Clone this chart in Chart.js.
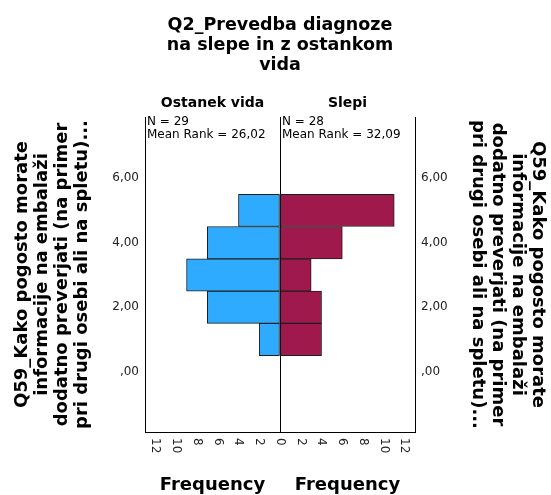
<!DOCTYPE html>
<html>
<head>
<meta charset="utf-8">
<script src="https://cdn.jsdelivr.net/npm/chart.js@4"></script>
<style>
  html, body { margin: 0; padding: 0; background: #fff; }
  #wrap { width: 551px; height: 495px; }
</style>
</head>
<body>
<div id="wrap"><canvas id="chart"></canvas></div>
<script>
// values
const groups = ['Ostanek vida', 'Slepi'];
const categories = [1, 2, 3, 4, 5];
const ostanekVida = [2, 7, 9, 7, 4];
const slepi = [4, 4, 3, 6, 11];
const groupN = [29, 28];
const meanRank = ['26,02', '32,09'];

const yTicks = [0, 2, 4, 6];
const yTickLabels = [',00', '2,00', '4,00', '6,00'];
const freqTicks = [0, 2, 4, 6, 8, 10, 12];

const titleLines = ['Q2_Prevedba diagnoze', 'na slepe in z ostankom', 'vida'];
const axisTitle = ['Q59_Kako pogosto morate', 'informacije na embalaži', 'dodatno preverjati (na primer', 'pri drugi osebi ali na spletu)...'];

const FONT = 'DejaVu Sans';
Chart.defaults.font.family = FONT;
Chart.defaults.color = '#000';

// mirrored frequency ticks: left half negative
const xTickValues = freqTicks.slice(1).reverse().map(v => -v).concat(freqTicks);

// draws headers, N / mean rank, rotated frequency ticks and axis labels
const extraText = {
  id: 'extraText',
  afterDraw(chart) {
    const {ctx, chartArea, scales: {x}} = chart;
    const zero = x.getPixelForValue(0);
    const centers = [(chartArea.left + zero) / 2, (zero + chartArea.right) / 2];
    ctx.save();
    ctx.fillStyle = '#000';
    ctx.textBaseline = 'middle';

    ctx.font = 'bold 14px "' + FONT + '"';
    ctx.textAlign = 'center';
    groups.forEach((g, i) => ctx.fillText(g, centers[i], chartArea.top - 14));

    ctx.font = 'bold 18px "' + FONT + '"';
    centers.forEach(c => ctx.fillText('Frequency', c, chartArea.bottom + 53));

    ctx.font = '12px "' + FONT + '"';
    ctx.textAlign = 'left';
    const starts = [chartArea.left + 2, zero + 2];
    starts.forEach((sx, i) => {
      ctx.fillText('N = ' + groupN[i], sx, chartArea.top + 5);
      ctx.fillText('Mean Rank = ' + meanRank[i], sx, chartArea.top + 17.5);
    });

    // tick labels read top to bottom
    ctx.fillStyle = '#222';
    xTickValues.forEach(v => {
      ctx.save();
      ctx.translate(x.getPixelForValue(v), chartArea.bottom + 6);
      ctx.rotate(Math.PI / 2);
      ctx.fillText(String(Math.abs(v)), 0, 0);
      ctx.restore();
    });
    ctx.restore();
  }
};

const yScale = (pos, width, pad) => ({
  type: 'linear',
  position: pos,
  min: -1.86,
  max: 7.89,
  offset: false,
  afterBuildTicks: s => { s.ticks = yTicks.map(v => ({value: v})); },
  afterFit: s => { s.width = width; },
  grid: {display: false, drawTicks: false},
  border: {display: true, color: '#000', width: 1},
  ticks: {
    padding: 6,
    color: '#222',
    font: {size: 12},
    callback: (v, i) => yTickLabels[i]
  },
  title: {
    display: true,
    text: axisTitle,
    font: {size: 18, weight: 'bold', lineHeight: '20px'},
    padding: {top: pad, bottom: 0}
  }
});

new Chart(document.getElementById('chart'), {
  type: 'bar',
  data: {
    datasets: [{
      label: groups[0],
      data: categories.map((c, i) => ({x: -ostanekVida[i], y: c})),
      backgroundColor: '#2eabff',
      borderColor: '#1e1e1e',
      borderWidth: 1,
      borderSkipped: false,
      grouped: false,
      barPercentage: 1,
      categoryPercentage: 1
    }, {
      label: groups[1],
      data: categories.map((c, i) => ({x: slepi[i], y: c})),
      backgroundColor: '#a0194c',
      borderColor: '#1e1e1e',
      borderWidth: 1,
      borderSkipped: false,
      grouped: false,
      barPercentage: 1,
      categoryPercentage: 1
    }]
  },
  options: {
    indexAxis: 'y',
    responsive: true,
    maintainAspectRatio: false,
    animation: false,
    layout: {padding: 0},
    plugins: {
      legend: {display: false},
      tooltip: {enabled: false},
      title: {
        display: true,
        fullSize: false,
        text: titleLines,
        color: '#000',
        font: {size: 17.5, weight: 'bold', lineHeight: '20px'},
        padding: {top: 15, bottom: 42}
      }
    },
    scales: {
      x: {
        type: 'linear',
        position: 'bottom',
        min: -13,
        max: 13,
        afterBuildTicks: s => { s.ticks = xTickValues.map(v => ({value: v})); },
        afterFit: s => { s.height = 63; },
        ticks: {display: false},
        grid: {
          drawTicks: false,
          color: c => (c.tick && c.tick.value === 0) ? '#000' : 'rgba(0,0,0,0)'
        },
        border: {display: true, color: '#000', width: 1}
      },
      y: yScale('left', 145, 12),
      y2: yScale('right', 136, 3)
    }
  },
  plugins: [extraText]
});
</script>
</body>
</html>
